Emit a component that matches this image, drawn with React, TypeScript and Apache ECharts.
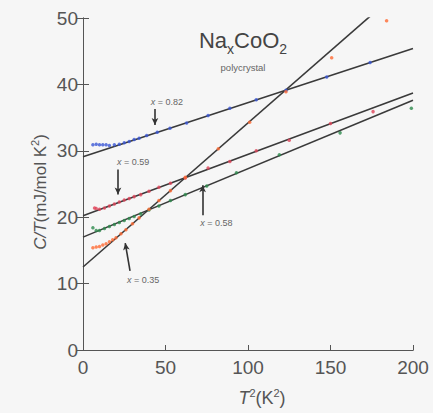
import React, { useEffect, useRef } from "react";
import * as echarts from "echarts";

// axis ticks
const xTickValues = [0, 50, 100, 150, 200];
const yTickValues = [0, 10, 20, 30, 40, 50];

// linear fits: C/T at T^2 = 0 and T^2 = 200
const fitEnds = [0, 200];
const fit082 = [29.1, 45.4];
const fit059 = [20.2, 38.7];
const fit058 = [17.0, 37.6];
const fit035 = [12.5, 55.9];

// measured points [T^2, C/T]
const pts082 = [
  [6, 30.9], [8, 31.0], [10, 30.9], [12, 30.9], [14, 30.9], [16, 30.8], [19, 30.9],
  [22, 31.0], [25, 31.2], [28, 31.4], [31, 31.7], [34, 31.9], [38.6, 32.3], [45, 32.8],
  [52.7, 33.4], [62.8, 34.2], [75.8, 35.3], [89, 36.4], [105, 37.7], [123, 39.1],
  [147.7, 41.1], [174, 43.3],
];
const pts059 = [
  [7, 21.4], [8, 21.3], [10, 21.2], [13, 21.4], [16, 21.7], [19, 22.0], [22, 22.3],
  [25, 22.6], [28, 22.8], [31, 23.1], [35, 23.4], [40, 23.9], [46, 24.5], [53, 25.1],
  [62, 25.9], [75.8, 27.4], [89, 28.4], [105, 30.0], [125, 31.6], [150, 34.1], [175.8, 35.9],
];
const pts058 = [
  [6, 18.4], [8, 18.0], [10, 18.0], [13, 18.3], [16, 18.6], [19, 18.9], [22, 19.2],
  [25, 19.5], [28, 19.8], [31, 20.1], [35, 20.5], [40, 21.1], [46, 21.7], [53, 22.5],
  [62, 23.4], [75, 24.7], [93, 26.7], [119, 29.4], [155.8, 32.7], [199, 36.4],
];
const pts035 = [
  [6, 15.4], [8, 15.5], [10, 15.6], [12, 15.8], [14, 16.0], [16, 16.3], [18, 16.6],
  [20, 16.9], [23, 17.5], [26, 18.1], [30, 19.0], [34, 19.9], [40, 21.2], [46, 22.5],
  [53, 24.0], [62, 26.0], [82, 30.3], [101, 34.3], [123, 38.9], [150.7, 44.0], [184, 49.6],
];

// annotations: label anchor, arrow tail, arrow tip
const labels = ["0.82", "0.59", "0.58", "0.35"];
const labelAnchors = [[41, 37.4], [20.6, 28.3], [71, 19.1], [26.7, 10.5]];
const arrowTails = [[43.6, 36.3], [21.2, 27.2], [72.5, 20.3], [28.5, 11.9]];
const arrowTips = [[43.6, 33.9], [21.2, 23.4], [72.5, 24.8], [25.6, 16.1]];

const colors = ["#3b57d6", "#e0455a", "#2e8b4e", "#ff6a33"];
const fits = [fit082, fit059, fit058, fit035];
const points = [pts082, pts059, pts058, pts035];

export default function App() {
  const ref = useRef<HTMLDivElement>(null);
  useEffect(() => {
    if (!ref.current) return;
    const chart = echarts.init(ref.current, null, { renderer: "svg" });
    const axisColor = "#555";
    const labelFont = "Liberation Sans, Arial, sans-serif";
    const series: any[] = [];
    fits.forEach((f, i) => {
      series.push({
        type: "line",
        data: fitEnds.map((x, k) => [x, f[k]]),
        symbol: "none",
        clip: true,
        lineStyle: { color: "#3a3a3a", width: 1.6 },
        z: 3,
        markLine: {
          silent: true,
          symbol: ["none", "arrow"],
          symbolSize: [5, 7],
          label: { show: false },
          lineStyle: { color: "#333", width: 1.6, type: "solid" },
          data: [[{ coord: arrowTails[i] }, { coord: arrowTips[i] }]],
        },
        markPoint: {
          silent: true,
          symbol: "circle",
          symbolSize: 0,
          label: {
            show: true,
            position: "right",
            distance: 0,
            color: "#666",
            fontSize: 9,
            fontFamily: labelFont,
            formatter: "{i|x} = " + labels[i],
            rich: { i: { fontStyle: "italic", fontSize: 9, color: "#666" } },
          },
          data: [{ coord: labelAnchors[i] }],
        },
      });
    });
    points.forEach((p, i) => {
      series.push({
        type: "scatter",
        data: p,
        symbol: "circle",
        symbolSize: 3.5,
        itemStyle: { color: colors[i] },
        z: 4,
      });
    });
    chart.setOption({
      animation: false,
      backgroundColor: "transparent",
      grid: { left: 83, right: 20, top: 18, bottom: 63 },
      xAxis: [
        {
          type: "value", min: 0, max: 200, interval: 50,
          axisLine: { show: true, lineStyle: { color: axisColor, width: 1 } },
          axisTick: { show: true, inside: true, length: 5, lineStyle: { color: axisColor } },
          axisLabel: { color: axisColor, fontSize: 19, fontFamily: labelFont, margin: 8, customValues: xTickValues },
          splitLine: { show: false },
        },
        {
          type: "value", min: 0, max: 200, interval: 50, position: "top",
          axisLine: { show: true, lineStyle: { color: axisColor, width: 1 } },
          axisTick: { show: false },
          axisLabel: { show: false },
          splitLine: { show: false },
        },
      ],
      yAxis: [
        {
          type: "value", min: 0, max: 50, interval: 10,
          axisLine: { show: true, lineStyle: { color: axisColor, width: 1 } },
          axisTick: { show: true, inside: true, length: 6, lineStyle: { color: axisColor } },
          axisLabel: { color: axisColor, fontSize: 19, fontFamily: labelFont, margin: 5, customValues: yTickValues },
          splitLine: { show: false },
        },
        {
          type: "value", min: 0, max: 50, interval: 10, position: "right",
          axisLine: { show: true, lineStyle: { color: axisColor, width: 1 } },
          axisTick: { show: true, inside: true, length: 6, lineStyle: { color: axisColor } },
          axisLabel: { show: false },
          splitLine: { show: false },
        },
      ],
      series,
      graphic: [
        {
          type: "text", x: 243, y: 40,
          style: {
            text: "{a|Na}{s|x}{a|CoO}{s|2}",
            align: "center", verticalAlign: "middle",
            fill: "#444",
            rich: {
              a: { fontSize: 22, fontFamily: labelFont, fill: "#444", lineHeight: 22 },
              s: { fontSize: 14, fontFamily: labelFont, fill: "#444", lineHeight: 32, verticalAlign: "bottom" },
            },
          },
        },
        {
          type: "text", x: 243, y: 67,
          style: { text: "polycrystal", fontSize: 9.5, fontFamily: labelFont, fill: "#666", align: "center", verticalAlign: "middle" },
        },
        {
          type: "text", x: 40, y: 192, rotation: Math.PI / 2,
          style: {
            text: "{i|C/T}{n|(mJ/mol K}{u|2}{n|)}",
            align: "center", verticalAlign: "middle",
            rich: {
              i: { fontSize: 17, fontStyle: "italic", fontFamily: labelFont, fill: "#555", lineHeight: 22 },
              n: { fontSize: 17, fontFamily: labelFont, fill: "#555", lineHeight: 22 },
              u: { fontSize: 11, fontFamily: labelFont, fill: "#555", lineHeight: 22, verticalAlign: "top" },
            },
          },
        },
        {
          type: "text", x: 262, y: 398,
          style: {
            text: "{i|T}{u|2}{n|(K}{u|2}{n|)}",
            align: "center", verticalAlign: "middle",
            rich: {
              i: { fontSize: 18, fontStyle: "italic", fontFamily: labelFont, fill: "#555", lineHeight: 22 },
              n: { fontSize: 18, fontFamily: labelFont, fill: "#555", lineHeight: 22 },
              u: { fontSize: 11, fontFamily: labelFont, fill: "#555", lineHeight: 22, verticalAlign: "top" },
            },
          },
        },
      ],
    });
    return () => chart.dispose();
  }, []);
  return (
    <div
      ref={ref}
      style={{ position: "absolute", left: 0, top: 0, width: 433, height: 413, background: "#f6f6f6" }}
    />
  );
}
